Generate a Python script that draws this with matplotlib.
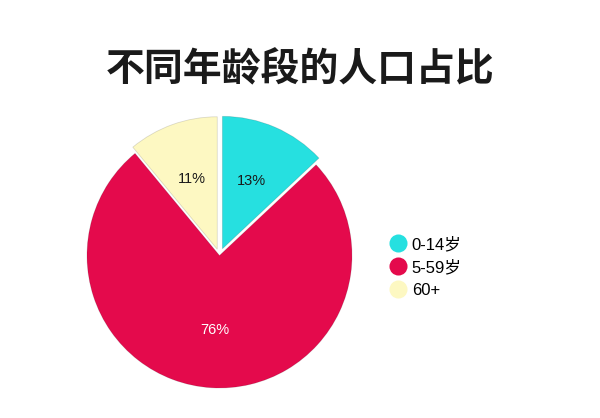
import matplotlib
matplotlib.use("Agg")
import matplotlib.pyplot as plt
from matplotlib.lines import Line2D

plt.rcParams['font.family'] = ['Liberation Sans', 'Noto Sans CJK SC', 'DejaVu Sans']

labels = ['0-14岁', '5-59岁', '60+']
shares = [13, 76, 11]
colors = ['#26e0e0', '#e40a4c', '#fdf8c2']
explode = [0.055, 0.0, 0.05]

W, H = 600, 418
fig = plt.figure(figsize=(W / 100, H / 100), dpi=100)

# pie centre ~ (219.5, 255.5) px from top-left, radius ~132.5 px
r_px = 132.5
half = 1.2 * r_px
cx, cy = 219.5, H - 255.5
ax = fig.add_axes([(cx - half) / W, (cy - half) / H, 2 * half / W, 2 * half / H])

wedges, texts, autotexts = ax.pie(
    shares, colors=colors, explode=explode, startangle=90, counterclock=False,
    autopct='%d%%', pctdistance=0.56, radius=1.0,
    wedgeprops=dict(edgecolor='#00000022', linewidth=0.6),
    textprops=dict(fontsize=10.5, color='#1a1a1a'))
autotexts[1].set_color('white')
ax.set_xlim(-1.2, 1.2)
ax.set_ylim(-1.2, 1.2)
ax.set_aspect('equal')
ax.axis('off')

fig.text(0.5, 1 - 70 / H, '不同年龄段的人口占比', ha='center', va='center',
         fontsize=28, fontweight='heavy', color='#1a1a1a',
         family=['Noto Sans CJK SC', 'DejaVu Sans'])

handles = [Line2D([], [], marker='o', linestyle='none', markersize=13,
                  markerfacecolor=c, markeredgecolor='none') for c in colors]
fig.legend(handles, labels, loc='center left', bbox_to_anchor=(375 / W, 1 - 267 / H),
           frameon=False, fontsize=12, handletextpad=0.3, labelspacing=0.45,
           handlelength=1.0)

fig.savefig('out.png', dpi=100)
